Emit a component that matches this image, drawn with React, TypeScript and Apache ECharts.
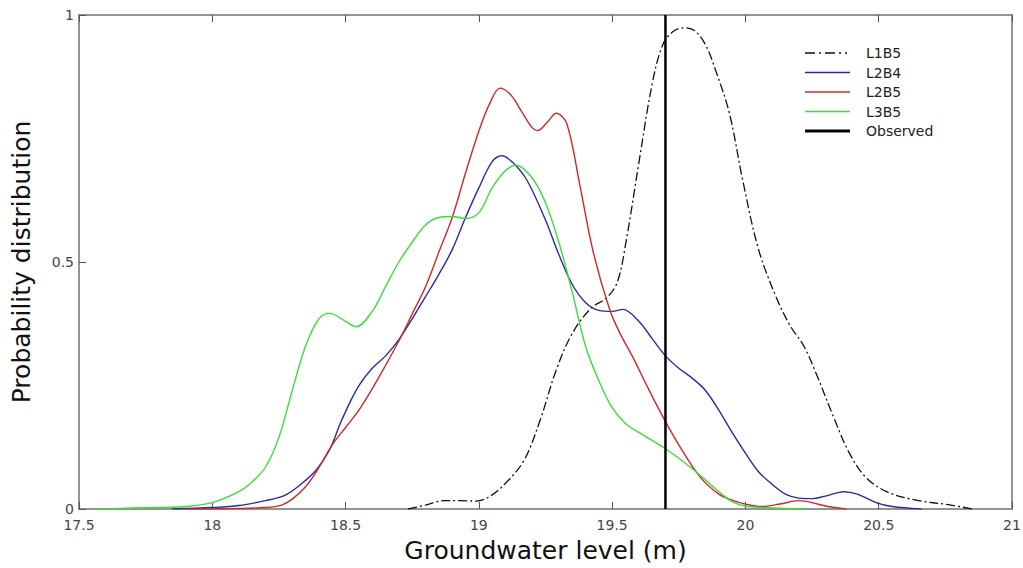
import React, { useEffect, useRef } from "react";
import * as echarts from "echarts";

// L1B5 (black dash-dot)
const l1b5X = [18.735, 18.8, 18.87, 18.93, 18.99, 19.04, 19.1, 19.17, 19.23, 19.29, 19.35, 19.42, 19.48, 19.52, 19.555, 19.6, 19.65, 19.69, 19.73, 19.77, 19.81, 19.85, 19.89, 19.94, 19.99, 20.05, 20.12, 20.17, 20.22, 20.27, 20.33, 20.39, 20.45, 20.53, 20.64, 20.77, 20.85];
const l1b5Y = [0, 0.008, 0.017, 0.017, 0.016, 0.025, 0.052, 0.099, 0.18, 0.281, 0.355, 0.406, 0.428, 0.46, 0.55, 0.7, 0.86, 0.94, 0.967, 0.974, 0.968, 0.94, 0.885, 0.801, 0.665, 0.524, 0.423, 0.369, 0.329, 0.268, 0.187, 0.113, 0.065, 0.035, 0.018, 0.008, 0];

// L2B4 (blue)
const l2b4X = [17.85, 18.0, 18.1, 18.2, 18.27, 18.33, 18.39, 18.44, 18.48, 18.52, 18.555, 18.6, 18.65, 18.7, 18.75, 18.8, 18.85, 18.9, 18.95, 19.0, 19.05, 19.086, 19.13, 19.18, 19.25, 19.3, 19.35, 19.4, 19.45, 19.5, 19.54, 19.6, 19.65, 19.7, 19.75, 19.8, 19.85, 19.9, 19.95, 20.0, 20.05, 20.1, 20.15, 20.2, 20.25, 20.3, 20.37, 20.42, 20.49, 20.55, 20.66];
const l2b4Y = [0, 0.003, 0.007, 0.017, 0.027, 0.049, 0.079, 0.12, 0.173, 0.22, 0.254, 0.285, 0.31, 0.343, 0.385, 0.43, 0.475, 0.525, 0.59, 0.65, 0.703, 0.715, 0.7, 0.666, 0.585, 0.515, 0.455, 0.418, 0.402, 0.4, 0.404, 0.38, 0.345, 0.31, 0.285, 0.265, 0.24, 0.2, 0.155, 0.113, 0.075, 0.05, 0.03, 0.022, 0.021, 0.026, 0.035, 0.03, 0.013, 0.005, 0];

// L2B5 (red)
const l2b5X = [17.9, 18.1, 18.2, 18.26, 18.3, 18.35, 18.39, 18.45, 18.5, 18.55, 18.62, 18.7, 18.75, 18.8, 18.85, 18.9, 18.95, 19.0, 19.04, 19.08, 19.12, 19.16, 19.2, 19.22, 19.26, 19.29, 19.33, 19.38, 19.43, 19.49, 19.53, 19.58, 19.63, 19.69, 19.75, 19.83, 19.9, 19.95, 20.0, 20.06, 20.13, 20.2, 20.25, 20.3, 20.38];
const l2b5Y = [0, 0.001, 0.003, 0.008, 0.02, 0.045, 0.075, 0.13, 0.165, 0.2, 0.262, 0.34, 0.395, 0.45, 0.52, 0.59, 0.68, 0.765, 0.82, 0.852, 0.838, 0.805, 0.772, 0.766, 0.785, 0.801, 0.78, 0.652, 0.518, 0.405, 0.355, 0.305, 0.25, 0.187, 0.13, 0.065, 0.03, 0.018, 0.01, 0.005, 0.01, 0.017, 0.013, 0.006, 0];

// L3B5 (green)
const l3b5X = [17.57, 17.7, 17.8, 17.9, 18.0, 18.1, 18.15, 18.2, 18.25, 18.3, 18.35, 18.4, 18.44, 18.5, 18.54, 18.6, 18.65, 18.7, 18.75, 18.8, 18.85, 18.9, 18.95, 19.0, 19.05, 19.1, 19.14, 19.2, 19.25, 19.3, 19.35, 19.4, 19.45, 19.5, 19.55, 19.6, 19.7, 19.8, 19.9, 19.95, 20.0, 20.1, 20.22];
const l3b5Y = [0, 0.002, 0.003, 0.005, 0.013, 0.035, 0.055, 0.085, 0.145, 0.24, 0.33, 0.385, 0.396, 0.38, 0.369, 0.4, 0.45, 0.5, 0.54, 0.575, 0.59, 0.592, 0.588, 0.6, 0.65, 0.685, 0.696, 0.67, 0.62, 0.54, 0.44, 0.33, 0.26, 0.205, 0.173, 0.155, 0.122, 0.082, 0.035, 0.015, 0.006, 0.002, 0];

// Observed groundwater level
const observedX = [19.7, 19.7];
const observedY = [0, 1];

const xTicks = [17.5, 18, 18.5, 19, 19.5, 20, 20.5, 21];
const yTicks = [0, 0.5, 1];

const zip = (xs: number[], ys: number[]) => xs.map((x, i) => [x, ys[i]]);

const FONT = "DejaVu Sans";

// legend icons: 56 x 14 box, line drawn in the left 45px
const solidIcon = (t: number) => `path://M0,0M56,14M0,${7 - t / 2}h45v${t}h-45z`;
const dashDotIcon =
  "path://M0,0M56,14M0,6.3h10v1.4h-10zM14,6.3h2v1.4h-2zM20,6.3h10v1.4h-10zM34,6.3h2v1.4h-2zM40,6.3h2v1.4h-2z";

export default function App() {
  const ref = useRef<HTMLDivElement>(null);
  useEffect(() => {
    if (!ref.current) return;
    const chart = echarts.init(ref.current, undefined, { renderer: "svg" });
    const axisLineColor = "#707070";
    chart.setOption({
      animation: false,
      backgroundColor: "#ffffff",
      textStyle: { fontFamily: FONT },
      grid: { left: 79, right: 11, top: 15, bottom: 59, containLabel: false, outerBoundsMode: "none" },
      legend: {
        orient: "vertical",
        left: 800,
        top: 41,
        itemWidth: 56,
        itemHeight: 14,
        itemGap: 5.5,
        textStyle: { fontFamily: FONT, fontSize: 14, color: "#222" },
        data: [
          { name: "L1B5", icon: dashDotIcon },
          { name: "L2B4", icon: solidIcon(1.5) },
          { name: "L2B5", icon: solidIcon(1.5) },
          { name: "L3B5", icon: solidIcon(1.5) },
          { name: "Observed", icon: solidIcon(3) },
        ],
      },
      xAxis: [
        {
          type: "value",
          min: 17.5,
          max: 21,
          interval: 0.5,
          name: "Groundwater level (m)",
          nameLocation: "middle",
          nameGap: 29,
          nameTextStyle: { fontFamily: FONT, fontSize: 25, color: "#111" },
          axisLine: { show: true, onZero: false, lineStyle: { color: axisLineColor, width: 1.5 } },
          axisTick: { show: true, inside: true, length: 7, lineStyle: { color: "#555", width: 1 } },
          axisLabel: {
            fontFamily: FONT,
            fontSize: 14,
            color: "#444",
            margin: 9,
            formatter: (v: number) => (xTicks.includes(v) ? String(v) : ""),
          },
          splitLine: { show: false },
        },
        {
          type: "value",
          position: "top",
          min: 17.5,
          max: 21,
          interval: 0.5,
          axisLine: { show: true, onZero: false, lineStyle: { color: axisLineColor, width: 1.5 } },
          axisTick: { show: true, inside: true, length: 7, lineStyle: { color: "#555", width: 1 } },
          axisLabel: { show: false },
          splitLine: { show: false },
        },
      ],
      yAxis: [
        {
          type: "value",
          min: 0,
          max: 1,
          interval: 0.5,
          name: "Probability distribution",
          nameLocation: "middle",
          nameGap: 45,
          nameTextStyle: { fontFamily: FONT, fontSize: 25, color: "#111" },
          axisLine: { show: true, onZero: false, lineStyle: { color: axisLineColor, width: 1.5 } },
          axisTick: { show: true, inside: true, length: 7, lineStyle: { color: "#555", width: 1 } },
          axisLabel: {
            fontFamily: FONT,
            fontSize: 14,
            color: "#444",
            margin: 5,
            formatter: (v: number) => (yTicks.includes(v) ? String(v) : ""),
          },
          splitLine: { show: false },
        },
        {
          type: "value",
          position: "right",
          min: 0,
          max: 1,
          interval: 0.5,
          axisLine: { show: true, onZero: false, lineStyle: { color: axisLineColor, width: 1.5 } },
          axisTick: { show: false },
          axisLabel: { show: false },
          splitLine: { show: false },
        },
      ],
      series: [
        {
          name: "L1B5",
          type: "line",
          data: zip(l1b5X, l1b5Y),
          smooth: 0.35,
          showSymbol: false,
          symbol: "none",
          lineStyle: { color: "#111", width: 1.3, type: [9, 3, 2, 3] },
          itemStyle: { color: "#111" },
          z: 3,
        },
        {
          name: "L2B4",
          type: "line",
          data: zip(l2b4X, l2b4Y),
          smooth: 0.35,
          showSymbol: false,
          symbol: "none",
          lineStyle: { color: "#2a2aa6", width: 1.4 },
          itemStyle: { color: "#2a2aa6" },
        },
        {
          name: "L2B5",
          type: "line",
          data: zip(l2b5X, l2b5Y),
          smooth: 0.35,
          showSymbol: false,
          symbol: "none",
          lineStyle: { color: "#d02828", width: 1.4 },
          itemStyle: { color: "#d02828" },
        },
        {
          name: "L3B5",
          type: "line",
          data: zip(l3b5X, l3b5Y),
          smooth: 0.35,
          showSymbol: false,
          symbol: "none",
          lineStyle: { color: "#3cdc3c", width: 1.4 },
          itemStyle: { color: "#3cdc3c" },
        },
        {
          name: "Observed",
          type: "line",
          data: zip(observedX, observedY),
          showSymbol: false,
          symbol: "none",
          lineStyle: { color: "#000", width: 2.5 },
          itemStyle: { color: "#000" },
          z: 4,
        },
      ],
    });
    return () => chart.dispose();
  }, []);
  return (
    <div
      ref={ref}
      style={{ position: "fixed", left: 0, top: 0, width: 1023, height: 568, background: "#fff" }}
    />
  );
}
